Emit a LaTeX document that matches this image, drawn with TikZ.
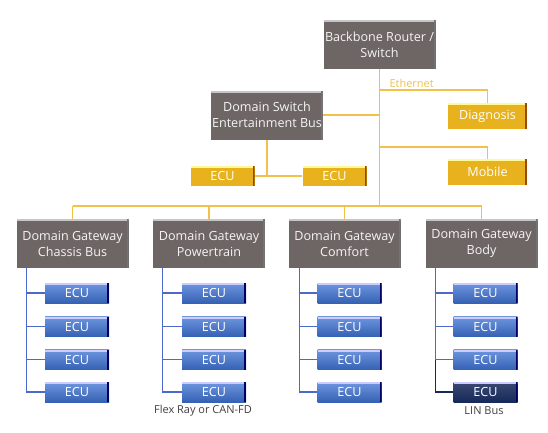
\documentclass[tikz,border=0pt]{standalone}
\usepackage{fontspec}
\setmainfont{Open Sans}
\usetikzlibrary{positioning, calc}
\definecolor{boxgray}{HTML}{6E6664}
\definecolor{boxgold}{HTML}{E8B21E}
\definecolor{linegold}{HTML}{F0C24A}
\definecolor{ecublue}{HTML}{3F73D4}
\definecolor{linkblue}{HTML}{4C68C8}
\definecolor{ecunavy}{HTML}{17295A}

\tikzset{
  bevel/.style 2 args={path picture={
      \fill[#1] (path picture bounding box.north west) rectangle ([yshift=-2.2pt]path picture bounding box.north east);
      \fill[#2] ([xshift=-2pt]path picture bounding box.north east) rectangle (path picture bounding box.south east);}},
  domainbox/.style={fill=boxgray, bevel={gray!45}{black!55}, text=white!92!gray, minimum width=112pt, minimum height=49pt,
      align=center, font=\fontsize{12.6}{16}\selectfont, inner sep=1pt},
  goldbox/.style={fill=boxgold, bevel={yellow!40!white}{orange!60!black}, text=white, minimum height=26pt, minimum width=79pt,
      font=\fontsize{12.6}{15}\selectfont, inner sep=1pt},
  smallgold/.style={goldbox, minimum width=64pt, minimum height=20pt},
  ecubox/.style={top color=ecublue!75!white, bottom color=ecublue!85!black, bevel={blue!20!white}{blue!40!black}, text=white,
      minimum width=64pt, minimum height=20pt, font=\fontsize{12.6}{15}\selectfont, inner sep=1pt},
  navybox/.style={ecubox, top color=ecunavy!85!white, bottom color=ecunavy},
  ethlink/.style={draw=linegold, line width=1.3pt},
  buslink/.style={draw=linkblue, line width=1.3pt},
  note/.style={font=\fontsize{11}{13}\selectfont, text=#1},
}

\begin{document}
\begin{tikzpicture}[x=1pt, y=-1pt]
    \useasboundingbox (0,0) rectangle (548,432);

    % backbone and ethernet branches
    \node[domainbox] (backbone) at (379.5,44.5) {Backbone Router /\\Switch};
    \node[domainbox] (infotain) at (267,115) {Domain Switch\\Entertainment Bus};
    \node[goldbox] (diag) at (487.5,116) {Diagnosis};
    \node[goldbox] (mobile) at (487.5,172) {Mobile};
    \node[smallgold] (ecuL) at (222.5,176) {ECU};
    \node[smallgold] (ecuR) at (334.5,176) {ECU};

    % domain gateways
    \node[domainbox] (chassis) at (72.5,243.5) {Domain Gateway\\Chassis Bus};
    \node[domainbox] (power) at (209,243.5) {Domain Gateway\\Powertrain};
    \node[domainbox] (comfort) at (344.5,243.5) {Domain Gateway\\Comfort};
    \node[domainbox] (body) at (481.5,243.5) {Domain Gateway\\Body};

    % ethernet wiring
    \coordinate (trunk) at (backbone.south |- 0,206);
    \draw[ethlink] (backbone.south) -- (trunk);
    \node[note=linegold, anchor=west] (eth) at (386,83) {Ethernet};
    \draw[ethlink] (backbone.south |- 0,90) -| (diag.north);
    \draw[ethlink] (backbone.south |- 0,147) -| (mobile.north);
    \draw[ethlink] (infotain.east) -- (infotain.east -| backbone.south);
    \draw[ethlink] (infotain.south) -- (infotain.south |- ecuL.east);
    \draw[ethlink] (ecuL.east) -- (ecuR.west);
    \draw[ethlink] (chassis.north |- trunk) -- (body.north |- trunk);
    \draw[ethlink] (chassis.north |- trunk) -- (chassis.north);
    \draw[ethlink] (power.north |- trunk) -- (power.north);
    \draw[ethlink] (comfort.north |- trunk) -- (comfort.north);
    \draw[ethlink] (body.north |- trunk) -- (body.north);

    % chassis ECUs
    \node[ecubox] (c1) at (77,293) {ECU};
    \node[ecubox] (c2) at (77,326.5) {ECU};
    \node[ecubox] (c3) at (77,359.5) {ECU};
    \node[ecubox] (c4) at (77,392) {ECU};
    \coordinate (cbus) at ([xshift=10pt]chassis.south west);
    \draw[buslink] (cbus) |- (c4.west);
    \draw[buslink] (cbus) |- (c1.west);
    \draw[buslink] (cbus) |- (c2.west);
    \draw[buslink] (cbus) |- (c3.west);

    % powertrain ECUs
    \node[ecubox] (p1) at (214,293) {ECU};
    \node[ecubox] (p2) at (214,326.5) {ECU};
    \node[ecubox] (p3) at (214,359.5) {ECU};
    \node[ecubox] (p4) at (214,392) {ECU};
    \coordinate (pbus) at ([xshift=10pt]power.south west);
    \draw[buslink] (pbus) |- (p4.west);
    \draw[buslink] (pbus) |- (p1.west);
    \draw[buslink] (pbus) |- (p2.west);
    \draw[buslink] (pbus) |- (p3.west);
    \node[note=black!75] (flexray) at (203,411) {Flex Ray or CAN-FD};

    % comfort ECUs
    \node[ecubox] (k1) at (349.5,293) {ECU};
    \node[ecubox] (k2) at (349.5,326.5) {ECU};
    \node[ecubox] (k3) at (349.5,359.5) {ECU};
    \node[ecubox] (k4) at (349.5,392) {ECU};
    \coordinate (kbus) at ([xshift=11pt]comfort.south west);
    \draw[buslink] (kbus) |- (k4.west);
    \draw[buslink] (kbus) |- (k1.west);
    \draw[buslink] (kbus) |- (k2.west);
    \draw[buslink] (kbus) |- (k3.west);

    % body ECUs
    \node[ecubox] (b1) at (485.5,293) {ECU};
    \node[ecubox] (b2) at (485.5,326.5) {ECU};
    \node[ecubox] (b3) at (485.5,359.5) {ECU};
    \node[navybox] (b4) at (485.5,392) {ECU};
    \coordinate (bbus) at ([xshift=10pt]body.south west);
    \draw[buslink, draw=ecunavy] (bbus) |- (b4.west);
    \draw[buslink] (bbus) |- (b3.west);
    \draw[buslink] (bbus) |- (b1.west);
    \draw[buslink] (bbus) |- (b2.west);
    \node[note=black!75] (lin) at (484,411) {LIN Bus};
\end{tikzpicture}
\end{document}
